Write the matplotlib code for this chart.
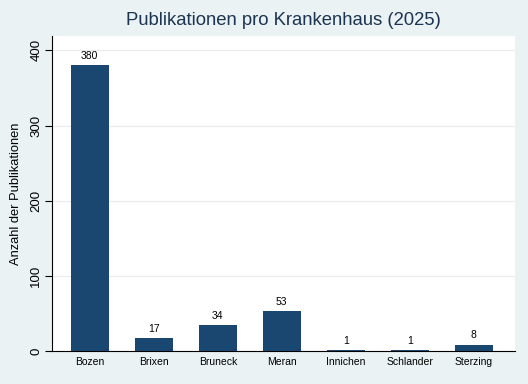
import matplotlib
matplotlib.use("Agg")
import matplotlib.pyplot as plt
import numpy as np

plt.rcParams['font.family'] = ['Liberation Sans', 'DejaVu Sans']

# data
spitaeler = ["Bozen", "Brixen", "Bruneck", "Meran", "Innichen", "Schlander", "Sterzing"]
publikationen = [380, 17, 34, 53, 1, 1, 8]

bg = "#eaf2f3"
navy = "#1a476f"

fig = plt.figure(figsize=(5.28, 3.84), dpi=100, facecolor=bg)
ax = fig.add_axes([0.0985, 0.086, 0.8765, 0.820])
ax.set_facecolor("white")

x = np.arange(len(spitaeler))
bars = ax.bar(x, publikationen, width=0.59, color=navy, zorder=3)
for xi, v in zip(x, publikationen):
    ax.text(xi, v + 6, str(v), ha="center", va="bottom", fontsize=7.5, color="black")

ax.set_xlim(-0.59, 6.64)
ax.set_ylim(0, 419)
ax.set_yticks([0, 100, 200, 300, 400])
ax.set_xticks(x)
ax.set_xticklabels(spitaeler, fontsize=7.5)
ax.tick_params(axis="x", length=0, pad=4)
ax.tick_params(axis="y", length=5, width=0.8, labelsize=9.5, pad=2)
for lab in ax.get_yticklabels():
    lab.set_rotation(90)
    lab.set_va("center")
ax.yaxis.grid(True, color="#e8ecee", linewidth=0.8, zorder=0)
ax.spines["top"].set_visible(False)
ax.spines["right"].set_visible(False)
ax.spines["left"].set_linewidth(0.8)
ax.spines["bottom"].set_linewidth(0.8)
ax.set_ylabel("Anzahl der Publikationen", fontsize=9.3, labelpad=6)
ax.set_title("Publikationen pro Krankenhaus (2025)", fontsize=13.3, color="#1c3452", pad=8)

fig.savefig("out.png", dpi=100, facecolor=bg)
